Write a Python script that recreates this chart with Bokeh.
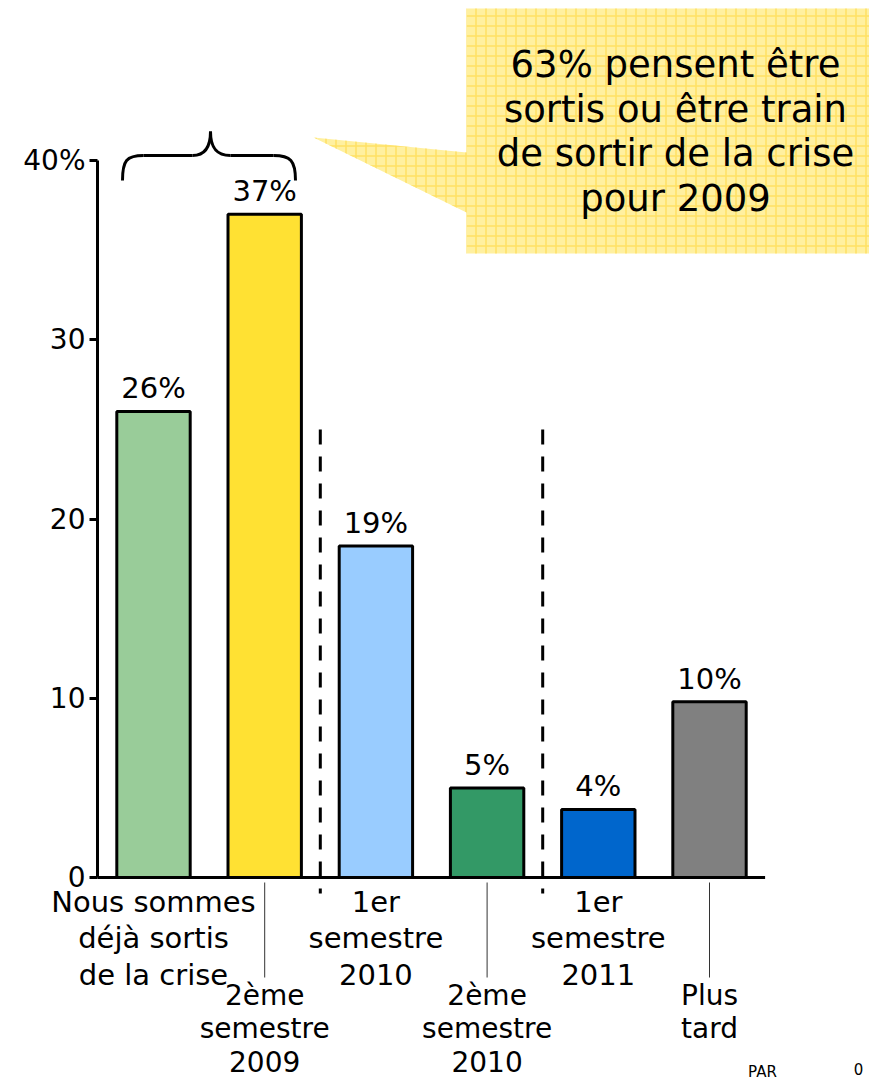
from bokeh.plotting import figure
from bokeh.models import Range1d, FixedTicker, ColumnDataSource
from bokeh.core.properties import value
from bokeh.embed import file_html
from bokeh.resources import INLINE

# ---- data ----
categories = [
    "Nous sommes\ndéjà sortis\nde la crise",
    "2ème\nsemestre\n2009",
    "1er\nsemestre\n2010",
    "2ème\nsemestre\n2010",
    "1er\nsemestre\n2011",
    "Plus\ntard",
]
values = [26, 37, 18.5, 5, 3.8, 9.8]
value_labels = ["26%", "37%", "19%", "5%", "4%", "10%"]
colors = ["#99CC99", "#FFE133", "#99CCFF", "#339966", "#0066CC", "#808080"]
y_ticks = [0, 10, 20, 30, 40]
callout_text = "63% pensent être\nsortis ou être train\nde sortir de la crise\npour 2009"
separators = [2.5, 4.5]
footer = ["PAR", "0"]

FONT = value("DejaVu Sans")

# ---- geometry (pixel -> data helpers) ----
W, H = 869, 1080
PXY = 40 / 717.0          # data units per pixel (y)
PXX = 1 / 111.2           # data units per pixel (x)
Y0 = 877                  # pixel y of value 0
X1 = 153                  # pixel x of first bar centre

def px2y(py):
    return (Y0 - py) * PXY

def px2x(px):
    return 1 + (px - X1) * PXX

x_axis_pos = px2x(97)

p = figure(width=W, height=H, output_backend="svg", toolbar_location=None,
           x_range=Range1d(px2x(0), px2x(W)), y_range=Range1d(px2y(H), px2y(0)),
           x_axis_location=None, y_axis_location="left",
           min_border_left=0, min_border_right=0, min_border_top=0,
           min_border_bottom=0, outline_line_color=None,
           background_fill_color="white", border_fill_color="white")
p.grid.visible = False

ax = p.yaxis[0]
ax.fixed_location = x_axis_pos
ax.ticker = FixedTicker(ticks=y_ticks)
ax.bounds = (0, 40)
ax.major_label_overrides = {40: "40%"}
ax.axis_line_width = 3
ax.axis_line_color = "black"
ax.major_tick_line_width = 3
ax.major_tick_out = 8
ax.major_tick_in = 0
ax.minor_tick_line_color = None
ax.major_label_text_font = "DejaVu Sans"
ax.major_label_text_font_size = "28px"
ax.major_label_text_color = "black"
ax.major_label_standoff = 4

# ---- callout (speech bubble) ----
bx0, bx1 = px2x(466), px2x(880)
by0, by1 = px2y(8), px2y(253)
bubble_x = [bx0, bx1, bx1, bx0, bx0, px2x(313), bx0]
bubble_y = [by0, by0, by1, by1, px2y(212), px2y(137), px2y(152)]
p.patch(bubble_x, bubble_y, fill_color="#FFF0A0", line_color=None,
        hatch_pattern="+", hatch_color="#FFDF5C", hatch_scale=10,
        hatch_weight=1.5, hatch_alpha=0.9)
p.text(x=[px2x(675)], y=[px2y(131)], text=[callout_text], text_font=FONT,
       text_font_size="37px", text_align="center", text_baseline="middle",
       text_line_height=1.04, text_color="black")

# ---- bars ----
xs = list(range(1, len(values) + 1))
src = ColumnDataSource(dict(x=xs, top=values, color=colors, lab=value_labels))
p.vbar(x="x", top="top", bottom=0, width=0.66, source=src,
       fill_color="color", line_color="black", line_width=3)
p.text(x="x", y="top", text="lab", source=src, text_font=FONT,
       text_font_size="29px", text_align="center",
       text_baseline="bottom", y_offset=-6, text_color="black")

# x axis line
p.segment(x0=[x_axis_pos], y0=[0], x1=[6.5], y1=[0], line_color="black",
          line_width=3)

# dashed separators
p.segment(x0=separators, y0=[25] * 2, x1=separators, y1=[px2y(893)] * 2,
          line_color="black", line_width=3, line_dash="15 12")

# leader lines for lower row labels
lead_x = xs[1::2]
p.segment(x0=lead_x, y0=[px2y(882)] * 3, x1=lead_x, y1=[px2y(977)] * 3,
          line_color="#333333", line_width=1)

# category labels (two staggered rows)
p.text(x=xs[0::2], y=[0] * 3, text=categories[0::2], text_font=FONT,
       text_font_size="29px", text_align="center", text_baseline="top",
       text_line_height=1.08, y_offset=7, text_color="black")
p.text(x=xs[1::2], y=[0] * 3, text=categories[1::2], text_font=FONT,
       text_font_size="28px", text_align="center", text_baseline="top",
       text_line_height=1.03, y_offset=101, text_color="black")

# brace over first two bars
bz = dict(line_color="black", line_width=3)
p.bezier(x0=[px2x(122), px2x(192), px2x(210), px2x(273)],
         y0=[px2y(180), px2y(155), px2y(131), px2y(155)],
         x1=[px2x(143), px2x(210), px2x(230), px2x(295)],
         y1=[px2y(155), px2y(131), px2y(155), px2y(180)],
         cx0=[px2x(122), px2x(205), px2x(210), px2x(290)],
         cy0=[px2y(160), px2y(155), px2y(146), px2y(155)],
         cx1=[px2x(126), px2x(210), px2x(215), px2x(295)],
         cy1=[px2y(155), px2y(146), px2y(155), px2y(160)], **bz)
p.segment(x0=[px2x(143), px2x(230)], y0=[px2y(155)] * 2,
          x1=[px2x(192), px2x(273)], y1=[px2y(155)] * 2, **bz)

# footer fragments
p.text(x=[px2x(762), px2x(858)], y=[px2y(1062)] * 2, text=footer,
       text_font=FONT, text_font_size="15px", text_align="center",
       text_baseline="top", text_color="black")

open("out.html", "w").write(file_html(p, INLINE))
